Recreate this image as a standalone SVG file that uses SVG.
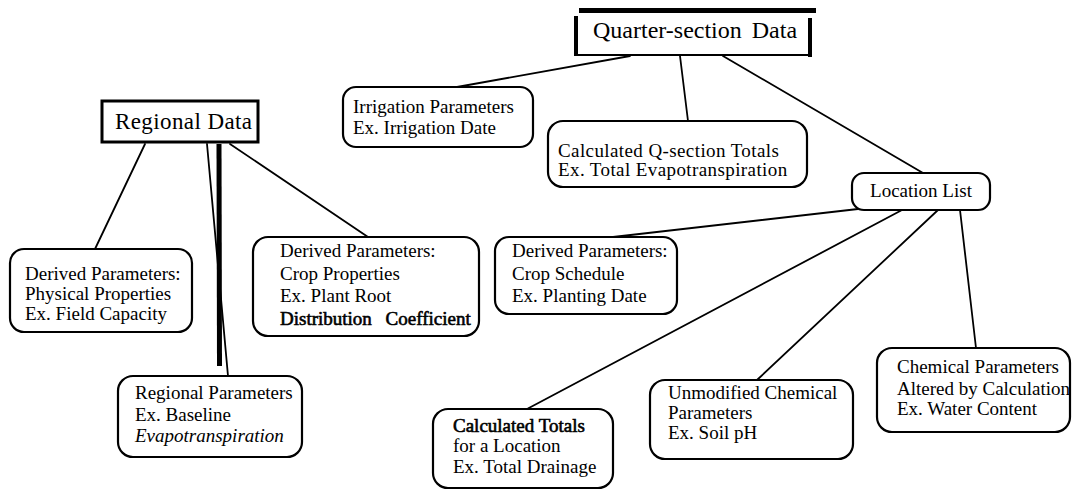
<svg xmlns="http://www.w3.org/2000/svg" width="1073" height="491" viewBox="0 0 1073 491">
<style>
.box{fill:#fff;stroke:#000;stroke-width:2.2}
.t{font-family:"Liberation Serif","Times New Roman",serif;font-size:19px;fill:#000}
.b{stroke:#000;stroke-width:0.6}
.i{font-style:italic}
.big{font-family:"Liberation Serif","Times New Roman",serif;fill:#000}
.c{fill:none;stroke:#000;stroke-width:1.8;stroke-linecap:round}
</style>
<rect width="1073" height="491" fill="#fff"/>
<g id="connectors">
<path class="c" d="M630 56 L457 87"/>
<path class="c" d="M680 56 L688 121"/>
<path class="c" d="M723 56 L923 173"/>
<path class="c" d="M145 144 L95 249"/>
<path class="c" d="M230 144 L368 237"/>
<path class="c" d="M207 144 L228 376"/>
<path d="M216.5 144 L221.5 144 L222 366 L217 366 Z" fill="#000"/>
<path class="c" d="M858 209 L613 237"/>
<path class="c" d="M902 210 L527 409"/>
<path class="c" d="M938 210 L757 380"/>
<path class="c" d="M960 210 L976 348"/>
</g>
<g id="quarter-section">
<rect x="576" y="14" width="235" height="41" fill="#fff"/>
<rect x="579" y="8" width="237" height="5" fill="#000"/>
<rect x="574" y="16" width="4" height="40" fill="#000"/>
<rect x="808" y="18" width="4" height="39" fill="#000"/>
<path d="M576 55 L811 55" stroke="#000" stroke-width="2"/>
<text class="big" x="593" y="38" font-size="24" word-spacing="4">Quarter-section Data</text>
</g>
<g id="regional-data">
<rect x="102" y="101" width="156" height="41" fill="#fff" stroke="#000" stroke-width="3"/>
<text class="big" x="115" y="129" font-size="23" letter-spacing="0.4">Regional Data</text>
</g>
<g id="irrigation">
<rect class="box" x="343" y="87" width="190" height="60" rx="13"/>
<text class="t" x="353" y="113">Irrigation Parameters</text>
<text class="t" x="353" y="134">Ex. Irrigation Date</text>
</g>
<g id="calc-q">
<rect class="box" x="548" y="121" width="259" height="66" rx="15"/>
<text class="t" x="558" y="157" letter-spacing="0.4">Calculated Q-section Totals</text>
<text class="t" x="558" y="176" letter-spacing="0.4">Ex. Total Evapotranspiration</text>
</g>
<g id="location-list">
<rect class="box" x="852" y="173" width="138" height="37" rx="12"/>
<text class="t" x="921" y="197" text-anchor="middle">Location List</text>
</g>
<g id="derived-physical">
<rect class="box" x="10" y="249" width="182" height="83" rx="14"/>
<text class="t" x="25" y="280">Derived Parameters:</text>
<text class="t" x="25" y="300">Physical Properties</text>
<text class="t" x="25" y="320">Ex. Field Capacity</text>
</g>
<g id="derived-crop">
<rect class="box" x="253" y="237" width="226" height="99" rx="15"/>
<text class="t" x="280" y="257">Derived Parameters:</text>
<text class="t" x="280" y="280">Crop Properties</text>
<text class="t" x="280" y="302">Ex. Plant Root</text>
<text class="t b" x="280" y="325" word-spacing="9">Distribution Coefficient</text>
</g>
<g id="crop-schedule">
<rect class="box" x="495" y="237" width="182" height="77" rx="14"/>
<text class="t" x="512" y="257">Derived Parameters:</text>
<text class="t" x="512" y="280">Crop Schedule</text>
<text class="t" x="512" y="302">Ex. Planting Date</text>
</g>
<g id="regional-params">
<rect class="box" x="118" y="376" width="184" height="81" rx="15"/>
<text class="t" x="135" y="399">Regional Parameters</text>
<text class="t" x="135" y="421">Ex. Baseline</text>
<text class="t i" x="135" y="442">Evapotranspiration</text>
</g>
<g id="calc-totals">
<rect class="box" x="433" y="409" width="180" height="79" rx="15"/>
<text class="t b" x="453" y="432" font-size="18">Calculated Totals</text>
<text class="t" x="453" y="452">for a Location</text>
<text class="t" x="453" y="473">Ex. Total Drainage</text>
</g>
<g id="unmodified">
<rect class="box" x="650" y="380" width="203" height="79" rx="15"/>
<text class="t" x="668" y="399">Unmodified Chemical</text>
<text class="t" x="668" y="419">Parameters</text>
<text class="t" x="668" y="439">Ex. Soil pH</text>
</g>
<g id="chemical">
<rect class="box" x="877" y="348" width="193" height="84" rx="15"/>
<text class="t" x="897" y="373">Chemical Parameters</text>
<text class="t" x="897" y="395">Altered by Calculation</text>
<text class="t" x="897" y="415">Ex. Water Content</text>
</g>
</svg>
